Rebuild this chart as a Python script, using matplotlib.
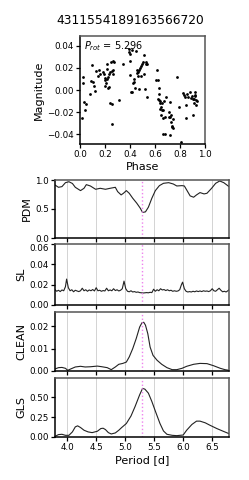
import matplotlib
matplotlib.use('Agg')
import matplotlib.pyplot as plt
import numpy as np

# star id and best period
star_id = '4311554189163566720'
p_rot = 5.296

# phase folded light curve
phase = [0.013, 0.024, 0.027, 0.035, 0.037, 0.048, 0.08, 0.091, 0.096, 0.104, 0.109, 0.117,
         0.125, 0.144, 0.155, 0.16, 0.181, 0.189, 0.197, 0.2, 0.203, 0.205, 0.213, 0.216,
         0.219, 0.221, 0.227, 0.232, 0.235, 0.24, 0.243, 0.248, 0.253, 0.256, 0.259, 0.261,
         0.264, 0.267, 0.272, 0.315, 0.344, 0.389, 0.395, 0.397, 0.4, 0.403, 0.411, 0.419,
         0.419, 0.424, 0.432, 0.435, 0.44, 0.451, 0.453, 0.459, 0.464, 0.467, 0.469, 0.475,
         0.48, 0.485, 0.491, 0.493, 0.501, 0.509, 0.512, 0.517, 0.525, 0.528, 0.536, 0.539,
         0.608, 0.619, 0.621, 0.624, 0.629, 0.632, 0.635, 0.637, 0.64, 0.643, 0.645, 0.651,
         0.656, 0.659, 0.664, 0.664, 0.667, 0.672, 0.677, 0.68, 0.685, 0.709, 0.715, 0.717,
         0.72, 0.723, 0.725, 0.731, 0.733, 0.736, 0.741, 0.747, 0.779, 0.795, 0.805, 0.824,
         0.835, 0.843, 0.848, 0.851, 0.856, 0.867, 0.883, 0.891, 0.896, 0.901, 0.907, 0.912,
         0.915, 0.917, 0.92, 0.923, 0.925, 0.928, 0.933]
mag = [-0.025, 0.0116, 0.0068, -0.0107, -0.0177, -0.0125, -0.004, 0.0083, 0.023, 0.0077, 0.0038, -0.0008,
       0.0174, 0.0125, 0.018, 0.0146, 0.0167, 0.0143, 0.0092, 0.0113, 0.0032, 0.0068, 0.0192, 0.0098,
       0.024, 0.0116, 0.0014, 0.003, 0.0143, 0.0165, -0.0122, 0.0252, -0.0125, 0.0174, -0.031, 0.0267,
       0.0149, 0.018, 0.0258, -0.0092, 0.0237, 0.0346, 0.0373, 0.0328, 0.0134, 0.026, -0.002, -0.0017,
       0.036, 0.0065, 0.0104, 0.0077, 0.002, 0.0352, 0.0177, 0.0155, 0.0165, 0.0125, 0.0005, 0.0183,
       0.02, 0.022, 0.0125, 0.024, 0.0255, 0.0322, 0.0146, 0.0008, 0.0233, 0.0255, 0.024, -0.0059,
       0.0089, 0.0183, 0.0089, -0.0086, -0.0092, 0.0014, -0.0032, -0.0168, -0.0098, -0.0122, -0.0231, -0.0152,
       -0.0122, -0.0186, -0.0252, -0.0397, -0.018, -0.0101, -0.04, -0.0249, -0.0059, -0.0246, -0.0198, -0.0113,
       -0.0409, -0.0249, -0.0291, -0.0228, -0.0325, -0.0337, -0.0349, -0.0264, 0.0119, -0.0152, -0.0472, -0.0026,
       -0.0047, -0.0062, -0.014, -0.0255, -0.004, -0.0068, -0.0017, -0.0074, -0.0056, -0.008, -0.0225, -0.0086,
       -0.0122, -0.002, -0.0047, -0.0056, -0.0137, -0.0092, -0.0101]

# PDM
pdm_period = [3.79, 3.85, 3.91, 3.97, 4.03, 4.09, 4.14, 4.23, 4.29, 4.33, 4.40, 4.49, 4.57, 4.66,
              4.74, 4.83, 4.87, 4.93, 4.97, 5.02, 5.07, 5.13, 5.20, 5.26, 5.30, 5.35, 5.40, 5.46,
              5.52, 5.59, 5.66, 5.75, 5.83, 5.89, 5.98, 6.02, 6.06, 6.12, 6.18, 6.23, 6.29, 6.36,
              6.41, 6.49, 6.56, 6.63, 6.70, 6.79]
pdm_theta = [0.914, 0.874, 0.886, 0.954, 0.97, 0.94, 0.874, 0.817, 0.857, 0.92, 0.897, 0.84, 0.857, 0.84,
             0.857, 0.874, 0.8, 0.743, 0.771, 0.817, 0.771, 0.686, 0.6, 0.514, 0.44, 0.451, 0.531, 0.686,
             0.817, 0.903, 0.943, 0.954, 0.931, 0.897, 0.903, 0.897, 0.829, 0.726, 0.703, 0.743, 0.783, 0.76,
             0.771, 0.857, 0.943, 0.983, 0.954, 0.886]

# string length
sl_period = [3.79, 3.82, 3.85, 3.88, 3.91, 3.94, 3.97, 3.99, 4.02, 4.05, 4.08, 4.11, 4.14, 4.17,
             4.20, 4.23, 4.26, 4.29, 4.32, 4.35, 4.38, 4.41, 4.44, 4.47, 4.50, 4.53, 4.56, 4.59,
             4.62, 4.65, 4.68, 4.71, 4.74, 4.77, 4.80, 4.83, 4.86, 4.89, 4.92, 4.95, 4.98, 5.01,
             5.04, 5.07, 5.10, 5.13, 5.16, 5.19, 5.22, 5.25, 5.28, 5.31, 5.34, 5.37, 5.40, 5.43,
             5.46, 5.49, 5.52, 5.55, 5.58, 5.61, 5.64, 5.67, 5.70, 5.73, 5.76, 5.79, 5.82, 5.85,
             5.88, 5.91, 5.94, 5.97, 5.99, 6.02, 6.05, 6.08, 6.11, 6.14, 6.17, 6.20, 6.23, 6.26,
             6.29, 6.32, 6.35, 6.38, 6.41, 6.44, 6.47, 6.50, 6.53, 6.56, 6.59, 6.62, 6.65, 6.68,
             6.71, 6.74, 6.77, 6.79]
sl_value = [0.0150, 0.0135, 0.0145, 0.0132, 0.0148, 0.0140, 0.0180, 0.0255, 0.0170, 0.0140, 0.0150, 0.0130, 0.0145, 0.0138,
            0.0132, 0.0140, 0.0165, 0.0140, 0.0150, 0.0135, 0.0148, 0.0140, 0.0152, 0.0138, 0.0170, 0.0140, 0.0145, 0.0135,
            0.0142, 0.0138, 0.0165, 0.0140, 0.0148, 0.0140, 0.0160, 0.0142, 0.0150, 0.0138, 0.0145, 0.0160, 0.0235, 0.0160,
            0.0135, 0.0130, 0.0140, 0.0128, 0.0132, 0.0125, 0.0128, 0.0122, 0.0120, 0.0118, 0.0120, 0.0122, 0.0120, 0.0125,
            0.0122, 0.0155, 0.0135, 0.0150, 0.0140, 0.0160, 0.0148, 0.0152, 0.0142, 0.0150, 0.0140, 0.0145, 0.0135, 0.0140,
            0.0135, 0.0138, 0.0150, 0.0200, 0.0225, 0.0160, 0.0135, 0.0128, 0.0132, 0.0128, 0.0135, 0.0130, 0.0138, 0.0132,
            0.0138, 0.0132, 0.0140, 0.0135, 0.0138, 0.0132, 0.0140, 0.0160, 0.0140, 0.0135, 0.0150, 0.0165, 0.0145, 0.0130,
            0.0135, 0.0128, 0.0140, 0.0150]

# CLEAN
clean_period = [3.79, 3.85, 3.91, 3.97, 4.01, 4.06, 4.14, 4.23, 4.31, 4.40, 4.52, 4.60, 4.69, 4.76,
                4.83, 4.89, 4.96, 5.02, 5.07, 5.13, 5.19, 5.25, 5.29, 5.32, 5.35, 5.39, 5.43, 5.48,
                5.55, 5.63, 5.72, 5.81, 5.89, 5.98, 6.06, 6.18, 6.29, 6.41, 6.52, 6.64, 6.72, 6.79]
clean_power = [0.0009, 0.0015, 0.0016, 0.0012, 0.0003, 0.0009, 0.0018, 0.0021, 0.0018, 0.0019, 0.0022, 0.0019, 0.0015, 0.0006,
               0.0018, 0.003, 0.0034, 0.004, 0.0063, 0.01, 0.0145, 0.0197, 0.0216, 0.0218, 0.0205, 0.0167, 0.0107, 0.007,
               0.0048, 0.003, 0.0015, 0.0006, 0.0006, 0.0012, 0.0021, 0.003, 0.0034, 0.0033, 0.0024, 0.0012, 0.0006, 0.0003]

# GLS
gls_period = [3.79, 3.85, 3.91, 3.97, 4.03, 4.09, 4.14, 4.18, 4.23, 4.29, 4.36, 4.43, 4.52, 4.58,
              4.62, 4.66, 4.71, 4.76, 4.83, 4.89, 4.94, 5.02, 5.10, 5.17, 5.25, 5.30, 5.34, 5.40,
              5.46, 5.53, 5.60, 5.66, 5.72, 5.81, 5.89, 6.00, 6.06, 6.15, 6.23, 6.29, 6.38, 6.46,
              6.58, 6.69, 6.79]
gls_power = [0.008, 0.03, 0.034, 0.021, 0.021, 0.064, 0.127, 0.14, 0.119, 0.085, 0.064, 0.055, 0.072, 0.106,
             0.11, 0.093, 0.055, 0.038, 0.051, 0.085, 0.119, 0.169, 0.263, 0.381, 0.53, 0.61, 0.60, 0.55,
             0.445, 0.305, 0.169, 0.076, 0.034, 0.021, 0.017, 0.025, 0.085, 0.157, 0.199, 0.199, 0.178, 0.148,
             0.106, 0.072, 0.042]

period_ticks = [4.0, 4.5, 5.0, 5.5, 6.0, 6.5]

plt.rcParams['font.family'] = 'DejaVu Sans'
plt.rcParams['font.size'] = 7

fig = plt.figure(figsize=(2.49, 4.8), dpi=100)
W, H = 249.0, 480.0

def style_spines(ax):
    for side in ['left', 'bottom']:
        ax.spines[side].set_color('black')
        ax.spines[side].set_linewidth(1.1)
    for side in ['top', 'right']:
        ax.spines[side].set_color('#555555')
        ax.spines[side].set_linewidth(1.1)
    ax.tick_params(labelsize=6.3, length=3, width=0.9, pad=1.5)

# light curve panel
ax0 = fig.add_axes([80 / W, 1 - 144 / H, 125 / W, 108 / H])
ax0.scatter(phase, mag, s=4, color='black', linewidths=0)
ax0.set_xlim(0, 1.0)
ax0.set_ylim(-0.049, 0.049)
ax0.set_yticks([-0.04, -0.02, 0.0, 0.02, 0.04])
ax0.set_xticks([0.0, 0.2, 0.4, 0.6, 0.8, 1.0])
ax0.set_xlabel('Phase', fontsize=8, labelpad=2)
ax0.set_ylabel('Magnitude', fontsize=8, labelpad=2)
ax0.text(0.03, 0.97, '$P_{rot}$ = %.3f' % p_rot, transform=ax0.transAxes,
         ha='left', va='top', fontsize=7)
style_spines(ax0)

fig.text(130 / W, 1 - 20 / H, star_id, ha='center', va='center', fontsize=8.8)

# periodogram panels
panels = [
    (pdm_period, pdm_theta, 'PDM', (0, 1.0), [0.0, 0.5, 1.0], '%.1f', 238, 58),
    (sl_period, sl_value, 'SL', (0, 0.06), [0.0, 0.02, 0.04, 0.06], '%.2f', 305, 61),
    (clean_period, clean_power, 'CLEAN', (0, 0.0264), [0.0, 0.01, 0.02], '%.2f', 371, 59),
    (gls_period, gls_power, 'GLS', (0, 0.74), [0.0, 0.25, 0.5], '%.2f', 437, 59),
]

axes = []
for per, val, name, ylim, yt, fmt, bottom, height in panels:
    ax = fig.add_axes([55 / W, 1 - bottom / H, 174 / W, height / H])
    ax.plot(per, val, color='#222222', lw=0.8)
    ax.axvline(p_rot, color='violet', ls=':', lw=1.0)
    ax.set_xlim(3.79, 6.79)
    ax.set_ylim(*ylim)
    ax.set_yticks(yt)
    ax.set_yticklabels([fmt % v for v in yt])
    ax.set_xticks(period_ticks)
    ax.grid(axis='x', color='lightgray', lw=0.7)
    ax.set_axisbelow(True)
    ax.set_ylabel(name, fontsize=8, labelpad=2)
    style_spines(ax)
    axes.append(ax)

# the SL top label sits just under its tick, as in the original
axes[1].get_yticklabels()[-1].set_va('top')

for ax in axes[:-1]:
    ax.set_xticklabels([])
axes[-1].set_xticklabels(['%.1f' % t for t in period_ticks])
axes[-1].set_xlabel('Period [d]', fontsize=8, labelpad=2)

fig.savefig('out.png', dpi=100)
